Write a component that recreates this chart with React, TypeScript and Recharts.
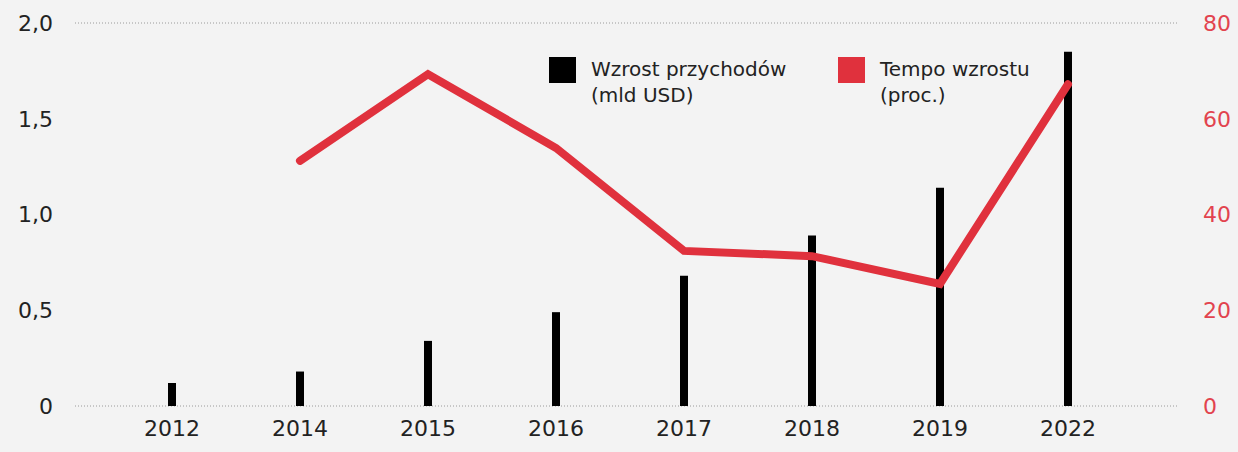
import React from "react";
import {
  Bar,
  CartesianGrid,
  ComposedChart,
  Line,
  XAxis,
  YAxis,
} from "recharts";

const years = ["2012", "2014", "2015", "2016", "2017", "2018", "2019", "2022"];
const revenueGrowth = [0.12, 0.18, 0.34, 0.49, 0.68, 0.89, 1.14, 1.85];
const growthRate: (number | null)[] = [null, 51.2, 69.3, 53.9, 32.4, 31.3, 25.5, 67.2];
const leftTicks = [0, 0.5, 1, 1.5, 2];
const rightTicks = [0, 20, 40, 60, 80];

const data = years.map((year, i) => ({
  year,
  revenue: revenueGrowth[i],
  rate: growthRate[i],
}));

const RED = "#e0313d";
const FONT = "'DejaVu Sans', sans-serif";

const fmtLeft = (v: number) => (v === 0 ? "0" : v.toFixed(1).replace(".", ","));

const tickStyle = { fontSize: 22, fontFamily: FONT };

function LegendItem({ color, l1, l2 }: { color: string; l1: string; l2: string }) {
  return (
    <div style={{ display: "flex", alignItems: "flex-start" }}>
      <div style={{ width: 27, height: 26, background: color, marginRight: 15 }} />
      <div style={{ fontSize: 20, lineHeight: "26px", color: "#222", marginTop: -1 }}>
        <div>{l1}</div>
        <div>{l2}</div>
      </div>
    </div>
  );
}

export default function App() {
  return (
    <div
      style={{
        position: "fixed",
        top: 0,
        left: 0,
        width: 1238,
        height: 452,
        background: "#f3f3f3",
        fontFamily: FONT,
      }}
    >
      <ComposedChart
        width={1238}
        height={452}
        data={data}
        margin={{ top: 23, right: 0, bottom: 0, left: 0 }}
      >
        <CartesianGrid vertical={false} stroke="#9a9a9a" strokeDasharray="1 2" />
        <XAxis
          dataKey="year"
          axisLine={false}
          tickLine={false}
          tickSize={0}
          tickMargin={14}
          height={46}
          padding={{ left: 33, right: 47 }}
          tick={{ ...tickStyle, fill: "#222" }}
        />
        <YAxis
          yAxisId="left"
          domain={[0, 2]}
          ticks={leftTicks}
          tickFormatter={fmtLeft}
          axisLine={false}
          tickLine={false}
          tickSize={0}
          tickMargin={22}
          width={75}
          tick={{ ...tickStyle, fill: "#222" }}
        />
        <YAxis
          yAxisId="right"
          orientation="right"
          domain={[0, 80]}
          ticks={rightTicks}
          axisLine={false}
          tickLine={false}
          tickSize={0}
          tickMargin={24}
          width={59}
          tick={{ ...tickStyle, fill: "#e2434e" }}
        />
        <Bar
          yAxisId="left"
          dataKey="revenue"
          fill="#000"
          barSize={8}
          isAnimationActive={false}
        />
        <Line
          yAxisId="right"
          dataKey="rate"
          stroke={RED}
          strokeWidth={8}
          strokeLinecap="round"
          strokeLinejoin="miter"
          dot={false}
          activeDot={false}
          isAnimationActive={false}
        />
      </ComposedChart>
      <div style={{ position: "absolute", top: 57, left: 549, display: "flex" }}>
        <div style={{ width: 289 }}>
          <LegendItem color="#000" l1="Wzrost przychodów" l2="(mld USD)" />
        </div>
        <LegendItem color={RED} l1="Tempo wzrostu" l2="(proc.)" />
      </div>
    </div>
  );
}
